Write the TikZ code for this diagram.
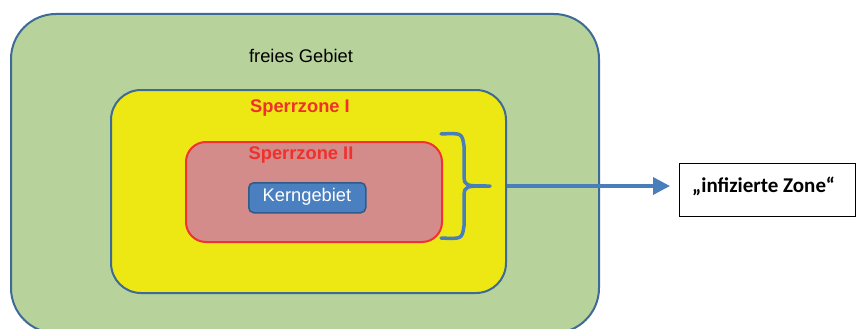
\documentclass[tikz,border=0pt]{standalone}
\usepackage{fontspec}
\setmainfont{Liberation Sans}
\newfontfamily\calib{Carlito}
\usetikzlibrary{arrows.meta}
\definecolor{gfill}{HTML}{B7D39B}
\definecolor{gline}{HTML}{3E6A96}
\definecolor{yfill}{HTML}{EDE814}
\definecolor{rfill}{HTML}{D48C8A}
\definecolor{rline}{HTML}{F03232}
\definecolor{rtext}{HTML}{F0302C}
\definecolor{bfill}{HTML}{4A7FC0}
\definecolor{bline}{HTML}{2F5A8A}
\definecolor{barrow}{HTML}{4A7EBB}
\tikzset{
  zone/.style={draw, line width=2pt, anchor=north west, inner sep=0pt},
  ztext/.style={font=\fontsize{18.3}{20}\selectfont, inner sep=0pt, anchor=center},
}
\begin{document}
\begin{tikzpicture}[x=1pt,y=-1pt]
\useasboundingbox (0,0) rectangle (856,329);
\clip (0,0) rectangle (856,329);
% zones
\node[zone, fill=gfill, draw=gline, rounded corners=45pt, minimum width=588pt, minimum height=319pt] (green) at (10,13) {};
\node[zone, fill=yfill, draw=gline, rounded corners=30pt, minimum width=395pt, minimum height=203pt] (yellow) at (110,89) {};
\node[zone, fill=rfill, draw=rline, rounded corners=20pt, minimum width=256pt, minimum height=100pt] (red) at (185,141) {};
\node[zone, fill=bfill, draw=bline, line width=1.5pt, rounded corners=5pt, minimum width=117pt, minimum height=30pt] (kern) at (248,182) {};
% texts
\node[ztext] (tfrei) at (301,56) {freies Gebiet};
\node[ztext, text=rtext, font=\fontsize{18.3}{20}\selectfont\bfseries] (tsp1) at (300,108) {Sperrzone I};
\node[ztext, text=rtext, font=\fontsize{18.3}{20}\selectfont\bfseries] (tsp2) at (301,155) {Sperrzone II};
\node[ztext, text=white] (tkern) at (307,197) {Kerngebiet};
% bracket
\coordinate (tip) at (490,186);
\draw[barrow, line width=3.5pt, line cap=round, line join=round]
  (441,134) .. controls (462,133) .. (464,146) -- (464,177)
  .. controls (465,186) .. (tip)
  .. controls (465,186) .. (464,195) -- (464,226)
  .. controls (462,239) .. (441,238);
% label box
\node[draw=black, line width=1.3pt, anchor=north west, minimum width=176pt, minimum height=53pt, inner sep=0pt] (box) at (679,163) {};
\node[font=\calib\fontsize{21}{23}\selectfont\bfseries, anchor=west, inner sep=0pt] (tbox) at (692,186) {„infizierte Zone“};
% arrow
\coordinate (astart) at (yellow.east |- tip);
\draw[barrow, line width=3.5pt, -{Triangle[length=17pt,width=17pt]}] (astart) -- ([xshift=-9pt]box.west |- tip);
\end{tikzpicture}
\end{document}
